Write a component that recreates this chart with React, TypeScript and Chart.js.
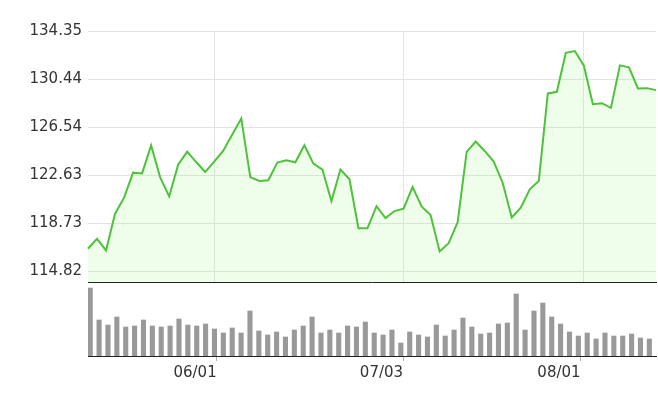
import React, { useEffect, useRef } from 'react';
import { Chart, registerables } from 'chart.js';

Chart.register(...registerables);

const prices = [
  116.67, 117.48, 116.53, 119.52, 120.82, 122.85, 122.79, 125.05, 122.49, 120.92,
  123.5, 124.56, 123.71, 122.9, 123.74, 124.63, 125.95, 127.25, 122.49, 122.17,
  122.23, 123.67, 123.85, 123.69, 125.07, 123.58, 123.1, 120.54, 123.1, 122.31,
  118.34, 118.34, 120.13, 119.16, 119.73, 119.92, 121.68, 120.11, 119.4, 116.45,
  117.12, 118.83, 124.53, 125.37, 124.61, 123.75, 122.01, 119.21, 120.0, 121.49,
  122.17, 129.28, 129.41, 132.58, 132.72, 131.53, 128.41, 128.49, 128.11, 131.56,
  131.4, 129.69, 129.71, 129.55,
];

const volumes = [
  68, 36, 31, 39, 29, 30, 36, 30, 29, 30, 37, 31, 30, 32, 27, 23, 28, 23, 45, 25,
  21, 24, 19, 26, 30, 39, 23, 26, 23, 30, 29, 34, 23, 21, 26, 13, 24, 21, 19, 31,
  20, 26, 38, 29, 22, 23, 32, 33, 62, 26, 45, 53, 39, 32, 24, 20, 23, 17, 23, 20,
  20, 22, 18, 17,
];

const categories = prices.map((_, i) => String(i));
const tickIndex = [14, 35, 55];
const tickLabels = ['06/01', '07/03', '08/01'];
const yTickValues = [114.82, 118.726, 122.632, 126.538, 130.444, 134.35];
const yMin = 113.97;
const yMax = 134.35;
const volMax = 74;

const FONT = { family: 'DejaVu Sans', size: 15 };

export default function App() {
  const topRef = useRef<HTMLCanvasElement>(null);
  const botRef = useRef<HTMLCanvasElement>(null);

  useEffect(() => {
    const top = new Chart(topRef.current!, {
      type: 'line',
      data: {
        labels: categories,
        datasets: [
          {
            data: prices,
            borderColor: '#4dc33a',
            borderWidth: 2,
            backgroundColor: 'rgba(150, 240, 120, 0.15)',
            fill: 'start',
            pointRadius: 0,
            tension: 0,
          },
        ],
      },
      options: {
        animation: false,
        responsive: false,
        maintainAspectRatio: false,
        layout: { padding: { top: 31, right: 2, bottom: 1, left: 0 } },
        plugins: { legend: { display: false }, tooltip: { enabled: false } },
        scales: {
          x: {
            type: 'category',
            offset: false,
            grid: { color: '#e3e3e3', drawTicks: false },
            border: { display: true, color: '#222', width: 1 },
            ticks: { display: false },
            afterBuildTicks: (s: any) => {
              s.ticks = tickIndex.map((v) => ({ value: v }));
            },
            afterFit: (s: any) => {
              s.height = 0;
              s.paddingLeft = 0;
              s.paddingRight = 0;
            },
          },
          y: {
            min: yMin,
            max: yMax,
            afterBuildTicks: (s: any) => {
              s.ticks = yTickValues.map((v) => ({ value: v }));
            },
            afterFit: (s: any) => {
              s.width = 88;
              s.paddingTop = 0;
              s.paddingBottom = 0;
            },
            grid: { color: '#e3e3e3', drawTicks: false },
            border: { display: false },
            ticks: {
              padding: 6,
              color: '#333',
              font: FONT,
              callback: (v: any) => Number(v).toFixed(2),
            },
          },
        },
      },
    });

    const bot = new Chart(botRef.current!, {
      type: 'bar',
      data: {
        labels: categories,
        datasets: [
          {
            data: volumes,
            backgroundColor: '#999999',
            barPercentage: 1,
            categoryPercentage: 1,
          },
          {
            data: [],
            backgroundColor: 'rgba(0,0,0,0)',
            barPercentage: 1,
            categoryPercentage: 1,
          },
        ],
      },
      options: {
        animation: false,
        responsive: false,
        maintainAspectRatio: false,
        layout: { padding: { top: 0, right: 2, bottom: 0, left: 88 } },
        plugins: { legend: { display: false }, tooltip: { enabled: false } },
        scales: {
          x: {
            type: 'category',
            offset: true,
            grid: {
              display: true,
              offset: false,
              drawOnChartArea: false,
              drawTicks: true,
              tickLength: 5,
              color: '#b0b0b0',
            },
            border: { display: true, color: '#222', width: 1 },
            ticks: {
              align: 'end',
              padding: 3,
              color: '#333',
              font: FONT,
              autoSkip: false,
              maxRotation: 0,
              callback: (_v: any, i: number) => tickLabels[i],
            },
            afterBuildTicks: (s: any) => {
              s.ticks = tickIndex.map((v) => ({ value: v }));
            },
            afterFit: (s: any) => {
              s.height = 52;
              s.paddingLeft = 0;
              s.paddingRight = 0;
            },
          },
          y: { display: false, min: 0, max: volMax },
        },
      },
    });

    return () => {
      top.destroy();
      bot.destroy();
    };
  }, []);

  return (
    <div style={{ position: 'fixed', left: 0, top: 0, width: 658, height: 408, background: '#fff' }}>
      <canvas ref={topRef} width={658} height={283} style={{ position: 'absolute', left: 0, top: 0 }} />
      <canvas ref={botRef} width={658} height={126} style={{ position: 'absolute', left: 0, top: 282 }} />
    </div>
  );
}
